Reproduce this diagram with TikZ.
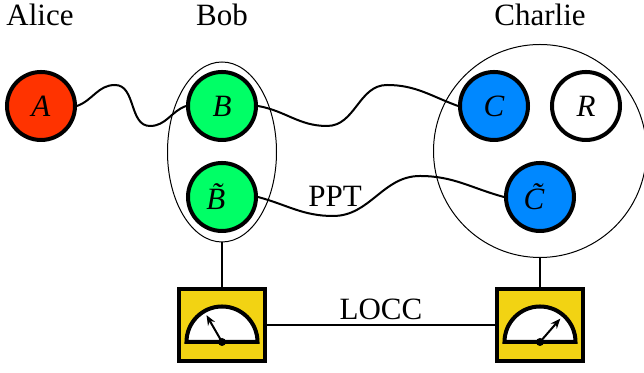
\documentclass[tikz,border=0pt]{standalone}
\usepackage{fontspec}
\setmainfont{Liberation Serif}
\usetikzlibrary{shapes.geometric,arrows.meta}
\definecolor{qred}{HTML}{FF3300}
\definecolor{qgreen}{HTML}{00FF66}
\definecolor{qblue}{HTML}{0088FF}
\definecolor{qyellow}{HTML}{F2D313}
\tikzset{
  qubit/.style={circle,draw,line width=2pt,minimum size=34pt,inner sep=0pt},
  party/.style={anchor=base,inner sep=0pt},
  meterbox/.style={rectangle,draw,line width=2.2pt,fill=qyellow,minimum width=42.8pt,minimum height=35.8pt},
  wave/.style={line width=1pt},
  thin ring/.style={draw,line width=0.5pt,inner sep=0pt},
}
\begin{document}
\begin{tikzpicture}[x=0.5pt,y=0.5pt,font=\fontsize{15.5}{18}\selectfont]
\useasboundingbox (0,0) rectangle (644,373);
% labels
\node[party] (alice) at (40,347) {Alice};
\node[party] (bobl) at (222,347) {Bob};
\node[party] (charliel) at (540,347) {Charlie};
% groups
\node[thin ring,ellipse,minimum width=54.5pt,minimum height=90pt] (bob) at (222,221) {};
\node[thin ring,circle,minimum size=106.5pt] (charlie) at (540,222) {};
% qubits
\node[qubit,fill=qred] (A) at (41,267) {\textit{A}};
\node[qubit,fill=qgreen] (B) at (222,267) {\textit{B}};
\node[qubit,fill=qgreen] (Bt) at (222,176) {\textit{B̃}};
\node[qubit,fill=qblue] (C) at (494,267) {\textit{C}};
\node[qubit,fill=white] (R) at (586,267) {\textit{R}};
\node[qubit,fill=qblue] (Ct) at (540,176) {\textit{C̃}};
% wave waypoints
\coordinate (ab1) at (115,288);
\coordinate (ab2) at (150,247);
\coordinate (bc1) at (327,247);
\coordinate (bc2) at (387,288);
\coordinate (tt1) at (333,157);
\coordinate (tt2) at (420,197);
\draw[wave] (A.east) to[out=20,in=180] (ab1) to[out=0,in=180] (ab2) to[out=0,in=200] (B.west);
\draw[wave] (B.east) to[out=-10,in=180] (bc1) to[out=0,in=180] (bc2) to[out=0,in=160] (C.west);
\draw[wave] (Bt.east) to[out=-15,in=180] (tt1) to[out=0,in=180] (tt2) to[out=0,in=165] (Ct.west);
\node (ppt) at (335,177) {PPT};
% meters
\node[meterbox] (mb) at (222,48) {};
\node[meterbox] (mc) at (540,48) {};
\draw[line width=0.8pt] (bob.south) -- (mb.north);
\draw[line width=0.8pt] (charlie.south) -- (mc.north);
\draw[line width=0.8pt] (mb.east) -- node[midway,above,inner sep=2pt] (locc) {LOCC} (mc.west);
\foreach \m/\ang in {mb/120, mc/49} {
  \coordinate (\m piv) at ([yshift=-8.5pt]\m.center);
  \filldraw[fill=white,line width=2pt] ([xshift=-17.75pt]\m piv) arc[start angle=180,end angle=0,radius=35.5] -- cycle;
  \draw[line width=1pt,-{Stealth[length=5pt,width=4pt]}] (\m piv) -- ++(\ang:31);
  \fill (\m piv) circle[radius=4];
}
\end{tikzpicture}
\end{document}
